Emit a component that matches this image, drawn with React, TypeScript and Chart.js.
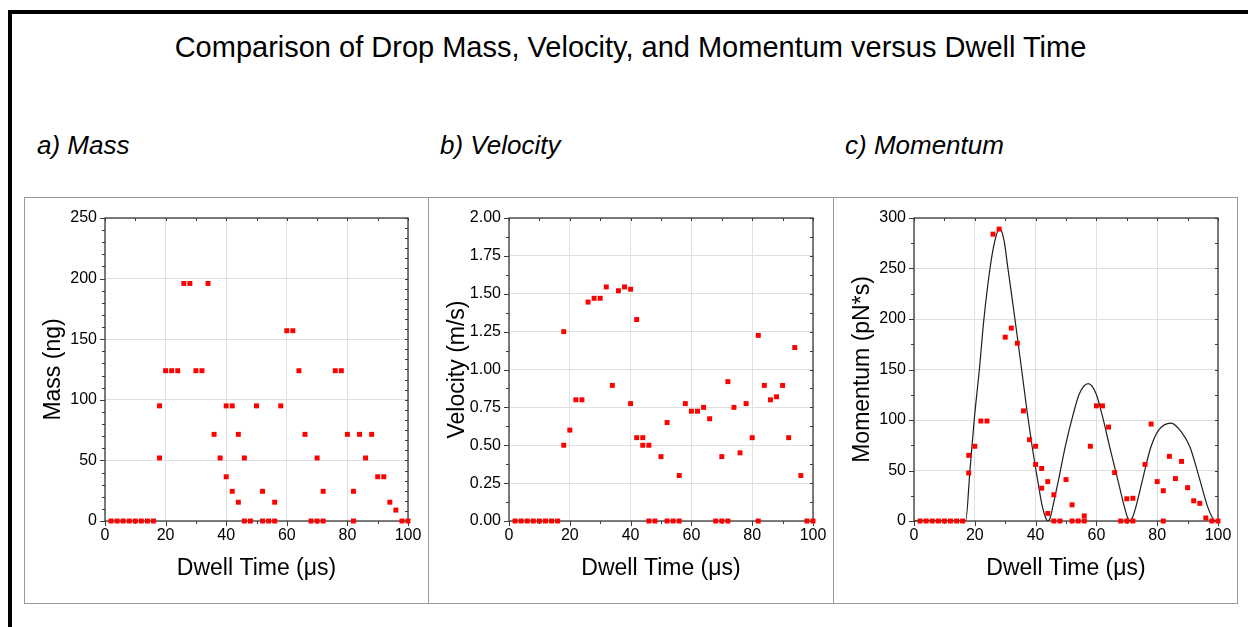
import React, { useEffect, useRef } from "react";
import { Chart, registerables } from "chart.js";

Chart.register(...registerables);

const FONT = "'Liberation Sans', Arial, Helvetica, sans-serif";

// ---- Data (Dwell time in µs) ----
const massX = [2, 4, 6, 8, 10, 12, 14, 16, 18, 18, 20, 22, 24, 26, 28, 30, 32, 34, 36, 38, 40, 40, 42, 42, 44, 44, 46, 46, 48, 50, 52, 52, 54, 56, 56, 58, 60, 62, 64, 66, 68, 70, 70, 72, 72, 76, 78, 80, 82, 82, 84, 86, 88, 90, 92, 94, 96, 98, 100];
const massY = [0, 0, 0, 0, 0, 0, 0, 0, 52, 95, 124, 124, 124, 196, 196, 124, 124, 196, 71.5, 52, 95, 36.5, 95, 24.5, 71.5, 15.5, 52, 0, 0, 95, 24.5, 0, 0, 15.5, 0, 95, 157, 157, 124, 71.5, 0, 52, 0, 24.5, 0, 124, 124, 71.5, 24.5, 0, 71.5, 52, 71.5, 36.5, 36.5, 15.5, 9, 0, 0];

const velocityX = [2, 4, 6, 8, 10, 12, 14, 16, 18, 18, 20, 22, 24, 26, 28, 30, 32, 34, 36, 38, 40, 40, 42, 42, 44, 44, 46, 46, 48, 50, 52, 52, 54, 56, 56, 58, 60, 62, 64, 66, 68, 70, 70, 72, 72, 74, 76, 78, 80, 82, 82, 84, 86, 88, 90, 92, 94, 96, 98, 100];
const velocityY = [0, 0, 0, 0, 0, 0, 0, 0, 1.25, 0.5, 0.6, 0.8, 0.8, 1.445, 1.47, 1.47, 1.545, 0.895, 1.52, 1.545, 1.53, 0.775, 1.33, 0.55, 0.55, 0.5, 0.5, 0, 0, 0.425, 0.65, 0, 0, 0.3, 0, 0.775, 0.725, 0.725, 0.75, 0.675, 0, 0.425, 0, 0.92, 0, 0.75, 0.45, 0.775, 0.55, 1.225, 0, 0.895, 0.8, 0.82, 0.895, 0.55, 1.145, 0.3, 0, 0];

const momentumX = [2, 4, 6, 8, 10, 12, 14, 16, 18, 18, 20, 22, 24, 26, 28, 30, 32, 34, 36, 38, 40, 40, 42, 42, 44, 44, 46, 46, 48, 50, 52, 52, 54, 56, 56, 58, 60, 62, 64, 66, 68, 70, 70, 72, 72, 76, 78, 80, 82, 82, 84, 86, 88, 90, 92, 94, 96, 98, 100];
const momentumY = [0, 0, 0, 0, 0, 0, 0, 0, 65, 47.5, 74, 99, 99, 284, 289, 182, 191, 176, 109, 80.5, 74, 56, 52, 32.5, 39, 7.5, 26, 0, 0, 41, 16, 0, 0, 5, 0, 74, 114, 114, 93, 48, 0, 22, 0, 22.5, 0, 56, 96, 39, 30, 0, 64, 42, 59, 33, 20, 17.5, 3, 0, 0];

// fitted curve
const fitX = [0, 17.0, 18.4, 19.8, 21.5, 23.0, 25.0, 26.5, 28.1, 29.6, 30.9, 33.2, 35.4, 37.4, 38.9, 40.7, 42.1, 43.2, 44.0, 44.8, 45.5, 47.5, 49.7, 52.4, 54.4, 57.3, 59.9, 61.8, 64.4, 67.1, 69.3, 70.3, 71.0, 71.8, 73.0, 75.1, 77.9, 80.5, 84.5, 88.0, 90.8, 94.1, 96.6, 98.2, 99.1, 100];
const fitY = [0, 0, 50, 100, 150, 200, 250, 276, 290, 278, 250, 200, 150, 104, 73, 40, 16, 4, 0, 3, 12, 40, 73, 106, 126, 136, 126, 106, 73, 40, 13, 3, 0, 3, 14, 40, 73, 90, 97, 88, 73, 40, 14, 3, 0, 0];

const xTickStep = 20;

const frameTicks = {
  id: "frameTicks",
  beforeDatasetsDraw(chart: any, _args: any, o: any) {
    const { ctx, chartArea: a } = chart;
    const xs = chart.scales.x;
    const ys = chart.scales.y;
    ctx.save();
    ctx.strokeStyle = "#3a3a3a";
    ctx.lineWidth = 1.3;
    ctx.strokeRect(a.left, a.top, a.right - a.left, a.bottom - a.top);
    ctx.lineWidth = 1;
    const line = (x1: number, y1: number, x2: number, y2: number) => {
      ctx.beginPath();
      ctx.moveTo(x1, y1);
      ctx.lineTo(x2, y2);
      ctx.stroke();
    };
    const isMajor = (v: number, m: number) => Math.abs(v / m - Math.round(v / m)) < 1e-6;
    for (let i = 0; ; i++) {
      const v = xs.min + i * o.xMinor;
      if (v > xs.max + 1e-9) break;
      const px = Math.round(xs.getPixelForValue(v)) + 0.5;
      const L = isMajor(v, o.xMajor) ? 5 : 3;
      line(px, a.bottom, px, a.bottom + L);
      line(px, a.top, px, a.top + 3);
    }
    for (let i = 0; ; i++) {
      const v = ys.min + i * o.yMinor;
      if (v > ys.max + 1e-9) break;
      const py = Math.round(ys.getPixelForValue(v)) + 0.5;
      const L = isMajor(v, o.yMajor) ? 5 : 3;
      line(a.left, py, a.left - L, py);
    }
    for (let i = 0; ; i++) {
      const v = ys.min + i * o.yRightMinor;
      if (v > ys.max + 1e-9) break;
      const py = Math.round(ys.getPixelForValue(v)) + 0.5;
      line(a.right, py, a.right - 3, py);
    }
    ctx.restore();
  },
};

type PanelProps = {
  left: number;
  width: number;
  padRight: number;
  xs: number[];
  ys: number[];
  yMax: number;
  yStep: number;
  yMinor: number;
  yRightMinor: number;
  yTitle: string;
  decimals: number;
  fitX?: number[];
  fitY?: number[];
};

function Panel(p: PanelProps) {
  const ref = useRef<HTMLCanvasElement>(null);
  useEffect(() => {
    const datasets: any[] = [
      {
        type: "scatter",
        data: p.xs.map((x, i) => ({ x, y: p.ys[i] })),
        pointBackgroundColor: "#ff0000",
        pointBorderWidth: 0,
        pointStyle: "rect",
        pointRadius: 3.5,
        clip: false,
        order: 0,
      },
    ];
    if (p.fitX && p.fitY) {
      const fy = p.fitY;
      datasets.push({
        type: "line",
        data: p.fitX.map((x, i) => ({ x, y: fy[i] })),
        borderColor: "#1e1e1e",
        borderWidth: 1.2,
        pointRadius: 0,
        cubicInterpolationMode: "monotone",
        fill: false,
        order: 1,
      });
    }
    const tickFont = { family: FONT, size: 16 };
    const titleFont = { family: FONT, size: 23, lineHeight: 1 };
    const chart = new Chart(ref.current as HTMLCanvasElement, {
      type: "scatter",
      data: { datasets },
      options: {
        animation: false,
        responsive: false,
        layout: { padding: { left: 0, right: p.padRight, top: 20, bottom: 0 } },
        plugins: {
          legend: { display: false },
          tooltip: { enabled: false },
          frameTicks: { xMinor: 10, xMajor: xTickStep, yMinor: p.yMinor, yMajor: p.yStep, yRightMinor: p.yRightMinor },
        } as any,
        scales: {
          x: {
            type: "linear",
            min: 0,
            max: 100,
            afterFit: (s: any) => {
              s.height = 82;
            },
            ticks: { stepSize: xTickStep, padding: 5, color: "#000", font: tickFont, maxRotation: 0 },
            grid: { color: "#e0e0e0", drawTicks: false },
            border: { display: false },
            title: {
              display: true,
              text: "Dwell Time (μs)",
              color: "#000",
              font: titleFont,
              padding: { top: 0, bottom: 23 },
            },
          },
          y: {
            type: "linear",
            min: 0,
            max: p.yMax,
            afterFit: (s: any) => {
              s.width = 80;
            },
            ticks: {
              stepSize: p.yStep,
              padding: 8,
              color: "#000",
              font: tickFont,
              callback: (v: any) => Number(v).toFixed(p.decimals),
            },
            grid: { color: "#e0e0e0", drawTicks: false },
            border: { display: false },
            title: {
              display: true,
              text: p.yTitle,
              color: "#000",
              font: titleFont,
              padding: { top: 17, bottom: 0 },
            },
          },
        },
      } as any,
      plugins: [frameTicks],
    } as any);
    return () => chart.destroy();
  }, []);
  return (
    <canvas
      ref={ref}
      width={p.width}
      height={405}
      style={{ position: "absolute", left: p.left, top: 198, width: p.width, height: 405 }}
    />
  );
}

export default function App() {
  const sub: React.CSSProperties = {
    position: "absolute",
    top: 132,
    fontFamily: FONT,
    fontStyle: "italic",
    fontSize: 26,
    lineHeight: "26px",
    color: "#000",
    whiteSpace: "nowrap",
  };
  return (
    <div style={{ position: "absolute", left: 0, top: 0, width: 1248, height: 627, background: "#fff", overflow: "hidden" }}>
      <div
        style={{
          position: "absolute",
          left: 8,
          top: 10,
          width: 1300,
          height: 700,
          border: "4px solid #000",
          boxSizing: "border-box",
        }}
      />
      <div
        style={{
          position: "absolute",
          left: 0,
          top: 33,
          width: 1261,
          textAlign: "center",
          fontFamily: FONT,
          fontSize: 29,
          lineHeight: "29px",
          color: "#000",
          whiteSpace: "nowrap",
        }}
      >
        Comparison of Drop Mass, Velocity, and Momentum versus Dwell Time
      </div>
      <div style={{ ...sub, left: 37 }}>a) Mass</div>
      <div style={{ ...sub, left: 440 }}>b) Velocity</div>
      <div style={{ ...sub, left: 845 }}>c) Momentum</div>
      <div
        style={{
          position: "absolute",
          left: 24,
          top: 197,
          width: 1214,
          height: 407,
          border: "1px solid #9a9a9a",
          boxSizing: "border-box",
        }}
      />
      <div style={{ position: "absolute", left: 428, top: 197, width: 1, height: 407, background: "#9a9a9a" }} />
      <div style={{ position: "absolute", left: 833, top: 197, width: 1, height: 407, background: "#9a9a9a" }} />
      <Panel left={25} width={403} padRight={20} xs={massX} ys={massY} yMax={250} yStep={50} yMinor={10} yRightMinor={50 / 6} yTitle="Mass (ng)" decimals={0} />
      <Panel left={429} width={404} padRight={20} xs={velocityX} ys={velocityY} yMax={2} yStep={0.25} yMinor={0.125} yRightMinor={0.125} yTitle="Velocity (m/s)" decimals={2} />
      <Panel left={834} width={403} padRight={19} xs={momentumX} ys={momentumY} yMax={300} yStep={50} yMinor={25} yRightMinor={25} yTitle="Momentum (pN*s)" decimals={0} fitX={fitX} fitY={fitY} />
    </div>
  );
}
